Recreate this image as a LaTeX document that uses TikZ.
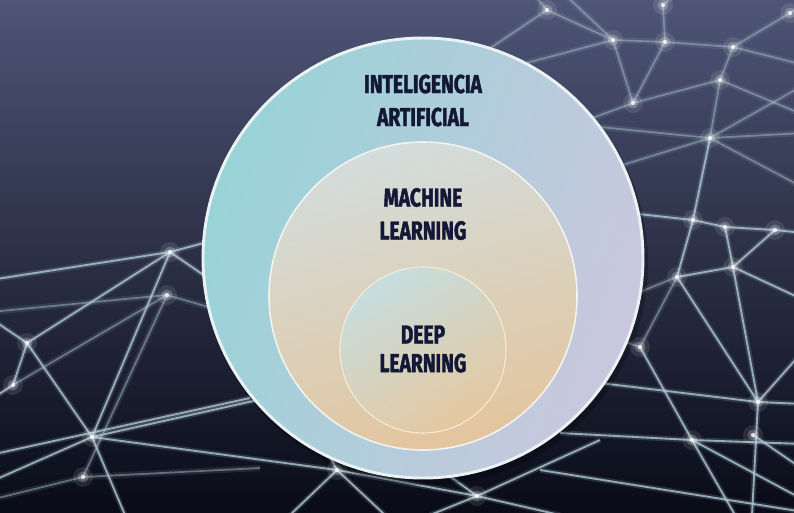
\documentclass[tikz,border=0pt]{standalone}
\usepackage{fontspec}
\newfontfamily\lblfont[FakeStretch=0.74,FakeBold=1.6]{Fira Sans}
\definecolor{bgtop}{HTML}{4E5576}
\definecolor{bgmid}{HTML}{2A2F4E}
\definecolor{bgbot}{HTML}{090B17}
\definecolor{net}{HTML}{AFCAD5}
\definecolor{aiA}{HTML}{98D3D8}
\definecolor{aiM}{HTML}{BCD6D9}
\definecolor{aiB}{HTML}{CAC7DE}
\definecolor{mlA}{HTML}{D3DDDC}
\definecolor{mlB}{HTML}{E3C59E}
\definecolor{dlA}{HTML}{C6DDDE}
\definecolor{dlB}{HTML}{E5C8A0}
\definecolor{ringw}{HTML}{EAF1F3}
\definecolor{ringm}{HTML}{F2F3EF}
\definecolor{ringd}{HTML}{F7ECD2}
\definecolor{txt}{HTML}{131836}
\newcommand\netglow[1]{%
  \fill[white,opacity=0.10] (#1) circle[radius=10];
  \fill[white,opacity=0.22] (#1) circle[radius=5.5];
  \fill[white,opacity=0.75] (#1) circle[radius=2.2];
}
\begin{document}
\begin{tikzpicture}[x=0.75pt,y=-0.75pt,
  netline/.style={draw=net, line width=1.4pt, draw opacity=0.8,
    preaction={draw=net, line width=4pt, draw opacity=0.18}},
  netdim/.style={draw=net, line width=1.3pt, draw opacity=0.45,
    preaction={draw=net, line width=4.5pt, draw opacity=0.12}},
  ringai/.style={circle, inner sep=0pt, minimum size=330pt, draw=ringw, line width=2.2pt,
    top color=aiA, middle color=aiM, bottom color=aiB, shading angle=70},
  ringml/.style={circle, inner sep=0pt, minimum size=231pt, draw=ringm, line width=1.2pt,
    top color=mlA, bottom color=mlB, shading angle=15},
  ringdl/.style={circle, inner sep=0pt, minimum size=124.5pt, draw=ringd, line width=0.8pt,
    top color=dlA, bottom color=dlB, shading angle=30},
  lbl/.style={text=txt, align=center, inner sep=0pt,
    font={\lblfont\bfseries\fontsize{19.5}{24.75}\selectfont}},
]
\useasboundingbox (0,0) rectangle (794,512);
\shade[top color=bgtop, middle color=bgmid, bottom color=bgbot] (0,0) rectangle (794,512);

% ---- network coordinates
\coordinate (L1) at (170,252);
\coordinate (L2) at (27,343);
\coordinate (L3) at (92,437);
\coordinate (L4) at (167,295);
\coordinate (L5) at (13,385);
\coordinate (L6) at (83,477);
\coordinate (L7) at (337,470);
\coordinate (L8) at (477,496);
\coordinate (R1) at (758,402);
\coordinate (R2) at (692,440);
\coordinate (R3) at (753,435);
\coordinate (R4) at (640,347);
\coordinate (R5) at (733,267);
\coordinate (R6) at (693,220);
\coordinate (R7) at (725,227);
\coordinate (R8) at (775,230);
\coordinate (R9) at (677,277);
\coordinate (T1) at (710,138);
\coordinate (T2) at (613,40);
\coordinate (T3) at (547,10);
\coordinate (T4) at (663,5);
\coordinate (T5) at (665,42);
\coordinate (T6) at (733,47);
\coordinate (T7) at (720,80);
\coordinate (T8) at (633,103);
\coordinate (T9) at (790,13);

% ---- left network
\draw[netline] (-10,280) -- (L1);
\draw[netline] (L1) -- (260,228);
\draw[netline] (L1) -- (240,300);
\draw[netline] (L1) -- (L2);
\draw[netline] (L2) -- (-10,318);
\draw[netline] (L2) -- (L5) -- (-10,400);
\draw[netline] (L2) -- (L3);
\draw[netline] (L1) -- (L3);
\draw[netline] (L3) -- (-10,482);
\draw[netline] (L3) -- (125,515);
\draw[netline] (L3) -- (280,395);
\draw[netline] (L3) -- (L7);
\draw[netdim] (L4) -- (-10,312);
\draw[netdim] (L4) -- (L5);
\draw[netdim] (L4) -- (260,322);
\draw[netdim] (L4) -- (L6);
\draw[netdim] (L6) -- (-10,500);
\draw[netdim] (L6) -- (260,468);
\draw[netline] (-10,455) -- (250,398);
\draw[netline] (L7) -- (290,515);
\draw[netline] (L7) -- (385,515);
\draw[netline] (L7) -- (L8);
\draw[netline] (L7) -- (300,400);
\draw[netline] (L8) -- (430,515);
\draw[netline] (L8) -- (560,515);
\draw[netline] (L8) -- (600,440);
\draw[netline] (L8) -- (400,440);

% ---- right lower network
\draw[netline] (600,383) -- (R1) -- (804,404);
\draw[netline] (560,433) -- (R2) -- (804,444);
\draw[netline] (R4) -- (R2) -- (735,515);
\draw[netline] (R5) -- (R1);
\draw[netline] (R9) -- (R1);
\draw[netline] (804,350) -- (R1);
\draw[netline] (R1) -- (752,515);
\draw[netline] (R2) -- (804,500);
\draw[netline] (R3) -- (804,470);
\draw[netline] (540,470) -- (804,512);
\draw[netdim] (R4) -- (560,320);
\draw[netdim] (R4) -- (R9);
\draw[netline] (620,212) -- (R6) -- (R7) -- (R8) -- (804,233);
\draw[netline] (R6) -- (R9);
\draw[netline] (R7) -- (R5);
\draw[netline] (R8) -- (R5) -- (R9);
\draw[netline] (R5) -- (804,300);
\draw[netdim] (R9) -- (620,300);

% ---- right upper network
\draw[netline] (T1) -- (R6);
\draw[netdim] (T1) -- (600,127);
\draw[netdim] (T1) -- (600,172);
\draw[netdim] (T1) -- (804,188);
\draw[netdim] (T1) -- (804,133);
\draw[netdim] (T1) -- (804,85);
\draw[netdim] (T1) -- (T7);
\draw[netdim] (T2) -- (T3);
\draw[netdim] (T2) -- (T5);
\draw[netdim] (T2) -- (500,70);
\draw[netdim] (T2) -- (T8);
\draw[netdim] (T2) -- (560,-10);
\draw[netdim] (T3) -- (480,55);
\draw[netdim] (T3) -- (530,-10);
\draw[netdim] (T4) -- (T5);
\draw[netdim] (T4) -- (680,-10);
\draw[netdim] (T5) -- (T6);
\draw[netdim] (T5) -- (T8);
\draw[netdim] (T6) -- (T9);
\draw[netdim] (T6) -- (T7);
\draw[netdim] (T6) -- (804,65);
\draw[netdim] (T7) -- (T8);
\draw[netdim] (T7) -- (804,115);
\draw[netdim] (T8) -- (560,130);
\draw[netdim] (T9) -- (804,5);

% ---- glows
\foreach \p in {L1,L2,L3,L4,L5,L6,L7,L8,R1,R2,R3,R4,R5,R6,R7,R8,R9,T1,T2,T3,T4,T5,T6,T7,T8,T9}{\netglow{\p}}

% ---- circles
\fill[black, opacity=0.25] (426,263) circle[radius=222];
\node[ringai] (ai) at (423,258) {};
\node[ringml] (ml) at (423,296) {};
\node[ringdl] (dl) at (423,350) {};

% ---- labels
\node[lbl] (tai) at (423,100.5) {INTELIGENCIA\\ARTIFICIAL};
\node[lbl] (tml) at (423,214) {MACHINE\\LEARNING};
\node[lbl, font={\lblfont\bfseries\fontsize{19.5}{21.4}\selectfont}] (tdl) at (423,349) {DEEP\\LEARNING};
\end{tikzpicture}
\end{document}
